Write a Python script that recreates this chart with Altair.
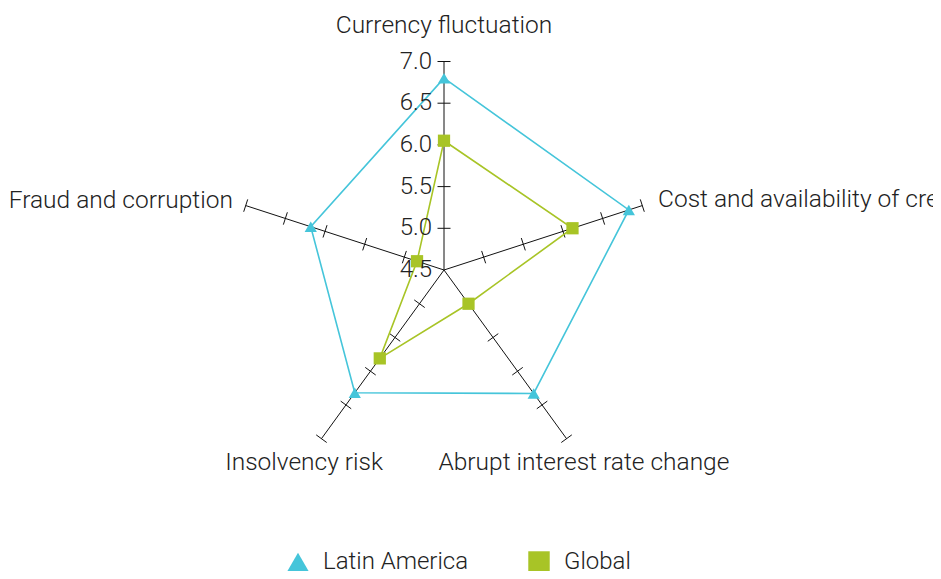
import altair as alt
import pandas as pd

# ---- data ----
categories = [
    "Currency fluctuation",
    "Cost and availability of credit",
    "Abrupt interest rate change",
    "Insolvency risk",
    "Fraud and corruption",
]
latin_america = [6.80, 6.83, 6.33, 6.32, 6.18]
global_vals = [6.05, 6.12, 5.00, 5.81, 4.84]
series_names = ["Latin America", "Global"]
tick_values = [4.5, 5.0, 5.5, 6.0, 6.5, 7.0]
tick_labels = ["4.5", "5.0", "5.5", "6.0", "6.5", "7.0"]

# ---- layout constants ----
VMIN, VMAX = 4.5, 7.0
R = 208.5           # radius in px of VMAX
W, H = 925, 563
CX, CY = 436, 262   # centre in chart px
HALF_TICK = 6.5
label_radius = [244, 225, 238, 238, 222]
label_align = ["center", "left", "center", "center", "right"]

FONT = "Roboto"
TXT = "#222222"
COLORS = ["#45C5DA", "#A8C426"]

xs = alt.Scale(domain=[-CX, W - CX], range=[0, W], nice=False, zero=False)
ys = alt.Scale(domain=[CY - H, CY], range=[H, 0], nice=False, zero=False)

ANG = "PI/2 - datum.idx*2*PI/5"
RAD = f"(datum.value-{VMIN})/({VMAX}-{VMIN})*{R}"

rows = []
for name, vals in zip(series_names, [latin_america, global_vals]):
    for i, (c, v) in enumerate(zip(categories, vals)):
        rows.append({"series": name, "category": c, "idx": i, "value": v})
series_df = pd.DataFrame(rows)

axes_df = pd.DataFrame({"idx": list(range(len(categories))), "value": [VMAX] * len(categories)})

tick_rows = []
for i in range(len(categories)):
    for t in tick_values[1:]:
        tick_rows.append({"idx": i, "value": t})
ticks_df = pd.DataFrame(tick_rows)

labels_df = pd.DataFrame({
    "category": categories,
    "idx": list(range(len(categories))),
    "lr": label_radius,
    "align": label_align,
})

nums_df = pd.DataFrame({"value": tick_values, "label": tick_labels, "idx": [0] * len(tick_values)})

X = lambda f: alt.X(f, type="quantitative", scale=xs, axis=None)
Y = lambda f: alt.Y(f, type="quantitative", scale=ys, axis=None)

# axis spokes
spokes = alt.Chart(axes_df).transform_calculate(
    ang=ANG, r=RAD
).transform_calculate(
    x0="0", y0="0", x2="datum.r*cos(datum.ang)", y2="datum.r*sin(datum.ang)"
).mark_rule(color="#111111", strokeWidth=1).encode(
    x=X("x0:Q"), y=Y("y0:Q"), x2="x2:Q", y2="y2:Q"
)

# tick marks
tickmarks = alt.Chart(ticks_df).transform_calculate(
    ang=ANG, r=RAD
).transform_calculate(
    cx="datum.r*cos(datum.ang)", cy="datum.r*sin(datum.ang)"
).transform_calculate(
    xa=f"datum.cx - {HALF_TICK}*sin(datum.ang)",
    ya=f"datum.cy + {HALF_TICK}*cos(datum.ang)",
    xb=f"datum.cx + {HALF_TICK}*sin(datum.ang)",
    yb=f"datum.cy - {HALF_TICK}*cos(datum.ang)",
).mark_rule(color="#111111", strokeWidth=1).encode(
    x=X("xa:Q"), y=Y("ya:Q"), x2="xb:Q", y2="yb:Q"
)

color_scale = alt.Scale(domain=series_names, range=COLORS)
shape_scale = alt.Scale(domain=series_names, range=["triangle-up", "square"])

base_series = alt.Chart(series_df).transform_calculate(
    ang=ANG, r=RAD
).transform_calculate(
    px="datum.r*cos(datum.ang)", py="datum.r*sin(datum.ang)"
)

def series_line(name, col):
    return base_series.transform_filter(
        f"datum.series == '{name}'"
    ).mark_line(interpolate="linear-closed", strokeWidth=1.6, color=col).encode(
        x=X("px:Q"), y=Y("py:Q"),
        order=alt.Order("idx:Q"),
    )

lines = [series_line(n, c) for n, c in zip(series_names, COLORS)]

legend_cfg = dict(
    title=None, orient="none", direction="horizontal",
    legendX=278, legendY=542, padding=0,
    symbolSize=460, symbolStrokeWidth=0,
    labelFont=FONT, labelFontSize=24, labelFontWeight=300, labelColor=TXT,
    labelOffset=13, columnPadding=58,
)

points = base_series.mark_point(filled=True, opacity=1, size=150).encode(
    x=X("px:Q"), y=Y("py:Q"),
    color=alt.Color("series:N", scale=color_scale, legend=alt.Legend(**legend_cfg)),
    shape=alt.Shape("series:N", scale=shape_scale, legend=alt.Legend(**legend_cfg)),
)

# value labels on vertical axis
nums = alt.Chart(nums_df).transform_calculate(
    r=RAD
).transform_calculate(
    nx="-12", ny="datum.r"
).mark_text(align="right", baseline="middle", font=FONT, fontSize=24,
            fontWeight=300, color=TXT).encode(
    x=X("nx:Q"), y=Y("ny:Q"), text="label:N"
)

def cat_layer(align):
    return alt.Chart(labels_df).transform_filter(
        f"datum.align == '{align}'"
    ).transform_calculate(
        ang=ANG
    ).transform_calculate(
        lx="datum.lr*cos(datum.ang)", ly="datum.lr*sin(datum.ang)"
    ).mark_text(align=align, baseline="middle", font=FONT, fontSize=24.5,
                fontWeight=300, color=TXT).encode(
        x=X("lx:Q"), y=Y("ly:Q"), text="category:N"
    )

chart = alt.layer(
    spokes, tickmarks, *lines, points, nums,
    cat_layer("center"), cat_layer("left"), cat_layer("right"),
).properties(
    width=W, height=H, padding=0,
    autosize=alt.AutoSizeParams(type="none"),
).configure_view(strokeWidth=0)

chart.save("out.html", embed_options={"renderer": "svg", "actions": False})
